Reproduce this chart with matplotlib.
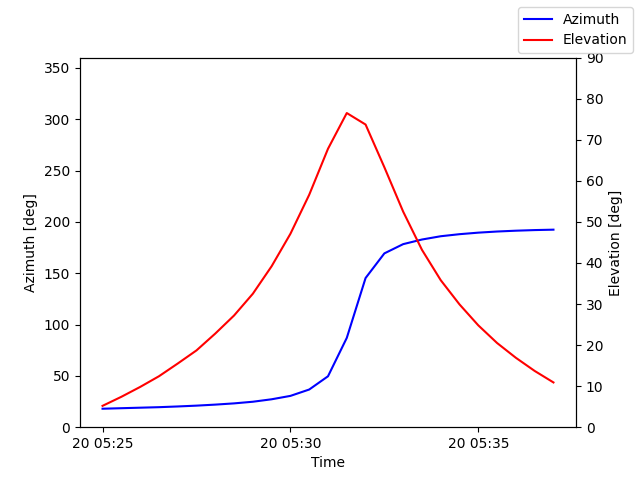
import matplotlib
matplotlib.use("Agg")
import matplotlib.pyplot as plt
import matplotlib.dates as mdates
import numpy as np
import pandas as pd

times = pd.date_range("2024-03-20 05:25:00", periods=25, freq="30s")
azimuth = [18.0, 18.5, 19.0, 19.5, 20.2, 21.0, 22.0, 23.2, 24.8, 27.2, 30.5, 36.7,
           49.6, 87.0, 145.3, 169.3, 178.3, 182.8, 186.0, 188.0, 189.5, 190.6,
           191.4, 192.0, 192.4]
elevation = [5.2, 7.4, 9.8, 12.4, 15.5, 18.7, 22.8, 27.2, 32.5, 39.2, 47.1, 56.6,
             67.8, 76.5, 73.7, 63.3, 52.5, 43.2, 35.8, 29.9, 24.8, 20.5, 16.9,
             13.7, 10.9]

fig, ax = plt.subplots(figsize=(6.4, 4.8), dpi=100)
ax.plot(times, azimuth, color="blue", label="Azimuth")
ax.set_ylim(0, 360)
ax.set_ylabel("Azimuth [deg]")
ax.set_xlabel("Time")
ax2 = ax.twinx()
ax2.plot(times, elevation, color="red", label="Elevation")
ax2.set_ylim(0, 90)
ax2.set_ylabel("Elevation [deg]")
ax.xaxis.set_major_locator(mdates.MinuteLocator(byminute=range(0, 60, 5)))
ax.xaxis.set_major_formatter(mdates.DateFormatter("%d %H:%M"))
fig.legend(loc="upper right")
fig.savefig("out.png")
